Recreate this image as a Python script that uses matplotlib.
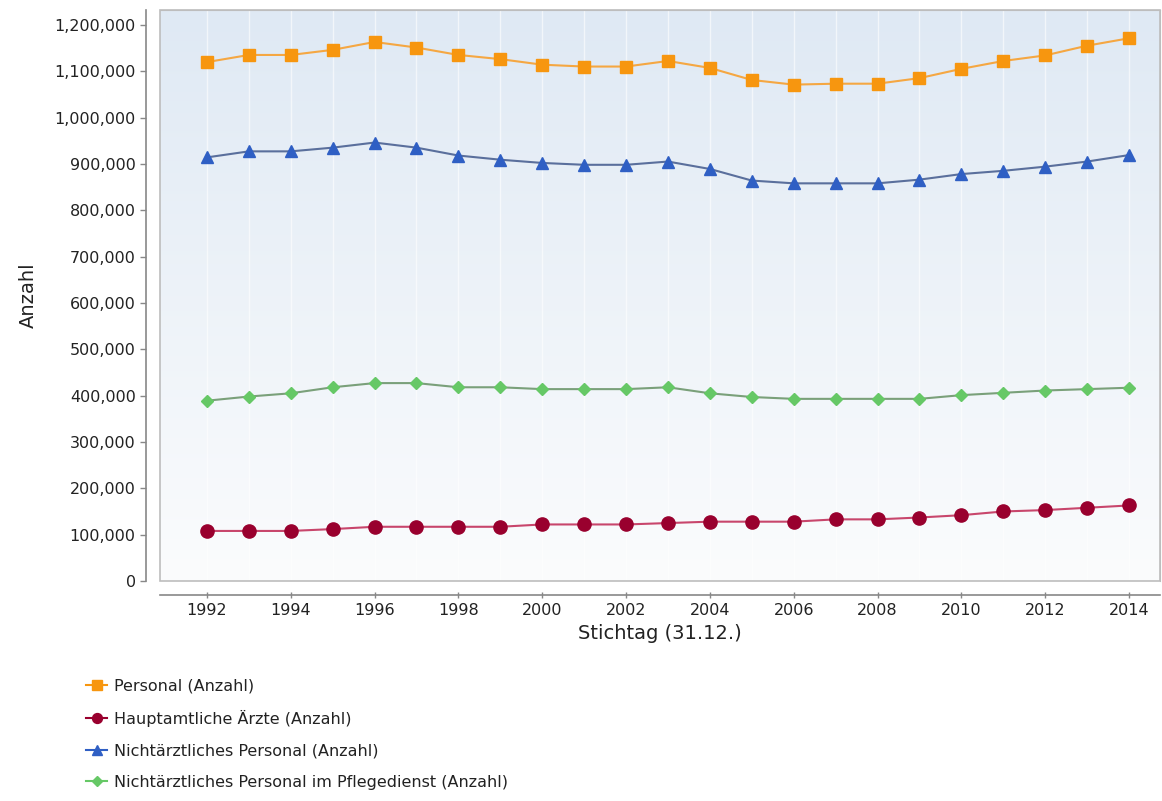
import numpy as np
import matplotlib
matplotlib.use("Agg")
import matplotlib.pyplot as plt
from matplotlib.ticker import FuncFormatter

# Werte
jahre = list(range(1992, 2015))
personal = [1119600, 1135000, 1135000, 1146000, 1163000, 1151000, 1135000, 1126000,
            1114000, 1110000, 1110000, 1122000, 1107000, 1081000, 1071000, 1073000,
            1073000, 1085000, 1105000, 1122000, 1134000, 1155000, 1171000]
aerzte = [108000, 108000, 108000, 112000, 117000, 117000, 117000, 117000,
          122000, 122000, 122000, 125000, 128000, 128000, 128000, 133000,
          133000, 137000, 142000, 150000, 153000, 158000, 163000]
nichtaerztlich = [914000, 927000, 927000, 935000, 946000, 935000, 918000, 909000,
                  902000, 898000, 898000, 905000, 889000, 864000, 858000, 858000,
                  858000, 866000, 878000, 885000, 894000, 905000, 919000]
pflegedienst = [389000, 398000, 405000, 418000, 427000, 427000, 418000, 418000,
                414000, 414000, 414000, 418000, 405000, 397000, 393000, 393000,
                393000, 393000, 401000, 406000, 411000, 414000, 417000]

labels = ["Personal (Anzahl)", "Hauptamtliche Ärzte (Anzahl)",
          "Nichtärztliches Personal (Anzahl)",
          "Nichtärztliches Personal im Pflegedienst (Anzahl)"]

W, H = 1162, 801
fig = plt.figure(figsize=(W / 100, H / 100), dpi=100)
ax = fig.add_axes([160 / W, 1 - 581 / H, 1000 / W, 571 / H])

ax.set_xlim(1990.88, 2014.74)
ax.set_ylim(0, 1232000)

# Hintergrund mit Verlauf
grad = np.linspace(0, 1, 256).reshape(-1, 1)
cmap = matplotlib.colors.LinearSegmentedColormap.from_list("bg", ["#fbfcfd", "#dfe9f4"])
ax.imshow(grad, extent=[0, 1, 0, 1], transform=ax.transAxes, origin="lower",
          aspect="auto", cmap=cmap, zorder=0)
for j in jahre:
    ax.axvline(j, color="white", lw=1, alpha=0.6, zorder=1)

series = [
    (personal, "#f7960f", "#f5a742", "s", 9),
    (aerzte, "#99002e", "#c8466c", "o", 9.5),
    (nichtaerztlich, "#2f5fc4", "#5a6f9c", "^", 9),
    (pflegedienst, "#66c866", "#7aa07a", "D", 6.5),
]
handles = []
for (vals, mc, lc, m, ms), lab in zip(series, labels):
    ax.plot(jahre, vals, color=lc, lw=1.5, zorder=3)
    ax.plot(jahre, vals, ls="none", marker=m, ms=ms, mfc=mc, mec=mc, zorder=4)
    h, = ax.plot([], [], color=mc, lw=1.5, marker=m, ms=ms * 0.75, mfc=mc, mec=mc)
    handles.append(h)

# Rahmen des Plotbereichs
for s in ["top", "right"]:
    ax.spines[s].set_color("#bdbdbd")
ax.add_patch(plt.Rectangle((0, 0), 1, 1, transform=ax.transAxes, fill=False,
                           edgecolor="#bdbdbd", lw=1.2, zorder=5, clip_on=False))
for s in ["left", "bottom"]:
    ax.spines[s].set_position(("outward", 10))
    ax.spines[s].set_color("#888888")
    ax.spines[s].set_linewidth(1.2)

ax.set_yticks(range(0, 1200001, 100000))
ax.yaxis.set_major_formatter(FuncFormatter(lambda v, p: f"{int(v):,}"))
ax.set_xticks(range(1992, 2015, 2))
ax.tick_params(axis="both", colors="#888888", labelcolor="#222222", labelsize=11.5,
               length=4, width=1)
ax.tick_params(axis="x", direction="inout", length=5)

ax.set_xlabel("Stichtag (31.12.)", fontsize=14, color="#222222", labelpad=4)
ax.set_ylabel("Anzahl", fontsize=14, color="#222222", labelpad=12)

leg = fig.legend(handles=handles, labels=labels, loc="upper left",
                 bbox_to_anchor=(80 / W, 1 - 672 / H), frameon=False,
                 fontsize=11.5, handlelength=1.3, handletextpad=0.45,
                 labelspacing=1.03, borderaxespad=0)
for t in leg.get_texts():
    t.set_color("#222222")

fig.savefig("out.png", dpi=100)
